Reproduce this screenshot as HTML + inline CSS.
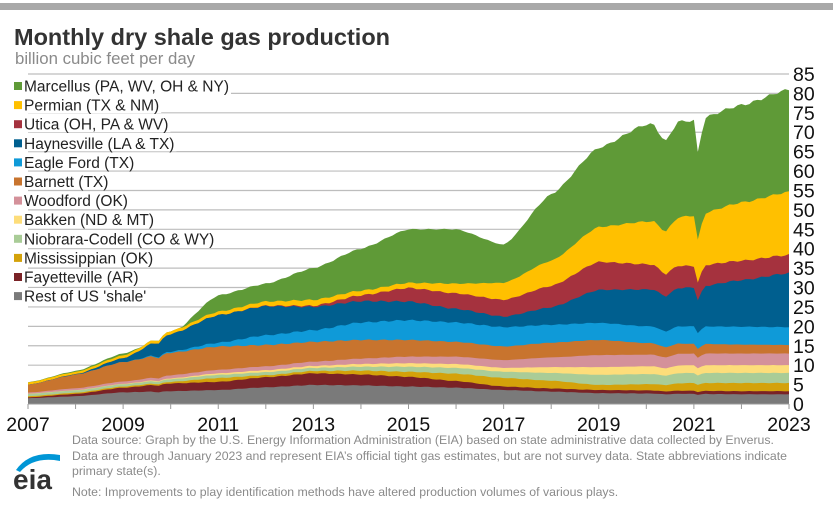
<!DOCTYPE html>
<html><head><meta charset="utf-8"><style>
body{margin:0;background:#fff;width:833px;height:506px;overflow:hidden;font-family:"Liberation Sans",sans-serif}
</style></head><body>
<svg id="s" width="833" height="506" xmlns="http://www.w3.org/2000/svg" font-family="Liberation Sans, sans-serif">
<rect x="0" y="3" width="833" height="7" fill="#a9a9a9"/>
<text x="14" y="45" font-size="23.5" font-weight="bold" fill="#333">Monthly dry shale gas production</text>
<text x="15" y="64" font-size="16.8" fill="#8a8a8a">billion cubic feet per day</text>
<g id="grid"></g>
<g id="area"></g>
<g id="legend"></g>
<g id="axis"></g>
<text x="72" y="444" font-size="12.3" fill="#8a8a8a">Data source: Graph by the U.S. Energy Information Administration (EIA) based on state administrative data collected by Enverus.</text>
<text x="72" y="460" font-size="12.3" fill="#8a8a8a">Data are through January 2023 and represent EIA’s official tight gas estimates, but are not survey data. State abbreviations indicate</text>
<text x="72" y="475" font-size="12.3" fill="#8a8a8a">primary state(s).</text>
<text x="72" y="496" font-size="12.3" fill="#8a8a8a">Note: Improvements to play identification methods have altered production volumes of various plays.</text>
<path d="M16 470 Q30 450 60 455 L60 461 Q34 456 20 472 Z" fill="#0096d6"/>
<text x="13" y="489" font-size="28" font-weight="bold" fill="#333">eia</text>
</svg>
<script>
var X0=28,X1=789,Y0=404,PU=330/85;
function xs(t){return X0+(t-2007)*(X1-X0)/16}
function ys(v){return Y0-v*PU}
var ns="http://www.w3.org/2000/svg";
function el(p,n,a,txt){var e=document.createElementNS(ns,n);for(var k in a)e.setAttribute(k,a[k]);if(txt!=null)e.textContent=txt;document.getElementById(p).appendChild(e);return e}
for(var v=5;v<=85;v+=5){el("grid","line",{x1:X0,x2:X1,y1:ys(v),y2:ys(v),stroke:"#bdbdbd","stroke-width":1.2})}
var L=[
["Rest of US 'shale'","#7a7a7a",[1.5,2,3,3.3,3.6,4.3,4.9,4.8,4.5,4.2,3.6,3.2,2.8,2.7,2.6,2.5,2.5]],
["Fayetteville (AR)","#7a2226",[.2,.6,1.2,2,2.1,2.6,3,2.8,2.5,1.7,.9,.8,.8,.8,.8,.8,.8]],
["Mississippian (OK)","#d4a20a",[.3,.3,.3,.4,1,.5,.6,1,1.3,1.9,2.2,2,1.3,1.6,2,2.1,2.1]],
["Niobrara-Codell (CO & WY)","#a9cc97",[.6,.6,.6,.7,.8,.8,.8,1,1.3,1.5,1.6,2,2.6,2.6,2.6,2.6,2.6]],
["Bakken (ND & MT)","#fddd7a",[.05,.05,.1,.2,.4,.5,.5,.7,.9,1,1,1.5,2,2,2,2,2]],
["Woodford (OK)","#d4919a",[.3,.5,.6,.8,.9,1,1.1,1.4,1.7,1.9,2,2.5,3.1,3,3,3,3]],
["Barnett (TX)","#c8742e",[2,3.5,5,5.8,6,5.5,5.1,4.8,4.3,3.8,3.5,3.8,3.9,3,2.5,2.3,2.2]],
["Eagle Ford (TX)","#0f9ad8",[0,0,0,.3,1,2.5,3,4.5,5.1,5,5,4.6,4.4,4.3,4.5,4.6,4.6]],
["Haynesville (LA & TX)","#005f8f",[0,.1,1,4.5,7.1,7.5,6,5.5,4.8,3.5,2.7,4.5,8.5,9.5,10,12,13.9]],
["Utica (OH, PA & WV)","#a5323e",[0,0,0,0,0,.1,.3,1.5,3.5,4,4.3,5.5,7.2,6.5,5.5,5,4.7]],
["Permian (TX & NM)","#ffc000",[.6,.6,.7,.8,.9,1.1,1.5,1.2,1.3,2.5,4.4,6.5,9,11,13,15,16.2]],
["Marcellus (PA, WV, OH & NY)","#5f9a37",null]];
var TOT=[5.6,8.5,13,18,28,31,35,40,45,45,41,54,66,72,73,77,81];
function interp(a,t){var i=Math.floor(t-2007);if(i>=16)return a[16];var f=t-2007-i;f=f*f*(3-2*f)*0.5+f*0.5;return a[i]+(a[i+1]-a[i])*f}
function dip(t,c,w,d){var x=Math.abs(t-c)/w;return x<1?d*(1-x):0}
var N=16*12,cum=[];for(var j=0;j<=N;j++)cum.push(0);
var tops=[];
for(var li=0;li<L.length;li++){var row=[];
for(var j=0;j<=N;j++){var t=2007+j/12,v;
if(L[li][2])v=interp(L[li][2],t);else{var s=0;for(var k=0;k<11;k++)s+=interp(L[k][2],t);v=Math.max(0,interp(TOT,t)-s)}
var m=1-dip(t,2009.75,.15,.07)-dip(t,2020.4,.25,.07)-dip(t,2021.1,.1,(li>=8&&li<=10)?.2:.1);
v*=m*(1+0.015*Math.sin(j*1.7+li));
cum[j]+=v;row.push(cum[j])}
tops.push(row)}
for(var li=L.length-1;li>=0;li--){var d="M"+X0+" "+Y0;
for(var j=0;j<=N;j++)d+=" L"+xs(2007+j/12).toFixed(1)+" "+ys(tops[li][j]).toFixed(1);
d+=" L"+X1+" "+Y0+"Z";el("area","path",{d:d,fill:L[li][1]})}
el("axis","line",{x1:X0,x2:X1,y1:Y0,y2:Y0,stroke:"#999"});
for(var y=2007;y<=2023;y++){el("axis","line",{x1:xs(y),x2:xs(y),y1:Y0,y2:Y0+5,stroke:"#999"});
if((y-2007)%2==0)el("axis","text",{x:xs(y),y:431,"font-size":19.5,"text-anchor":"middle",fill:"#111"},y)}
for(var v=0;v<=85;v+=5)el("axis","text",{x:793,y:ys(v)+7,"font-size":19.5,fill:"#111"},v);
for(var i=0;i<12;i++){var l=L[11-i],cy=86+i*19.1;
var tx=el("legend","text",{x:24,y:cy+5.5,"font-size":15.5,fill:"#222"},l[0]);
var bb=tx.getBBox();var r=document.createElementNS(ns,"rect");r.setAttribute("x",10);r.setAttribute("y",cy-8);r.setAttribute("width",bb.x+bb.width-8);r.setAttribute("height",16);r.setAttribute("fill","#fff");tx.parentNode.insertBefore(r,tx);
el("legend","rect",{x:14,y:cy-4,width:8,height:8,fill:l[1]})}
</script>
</body></html>
